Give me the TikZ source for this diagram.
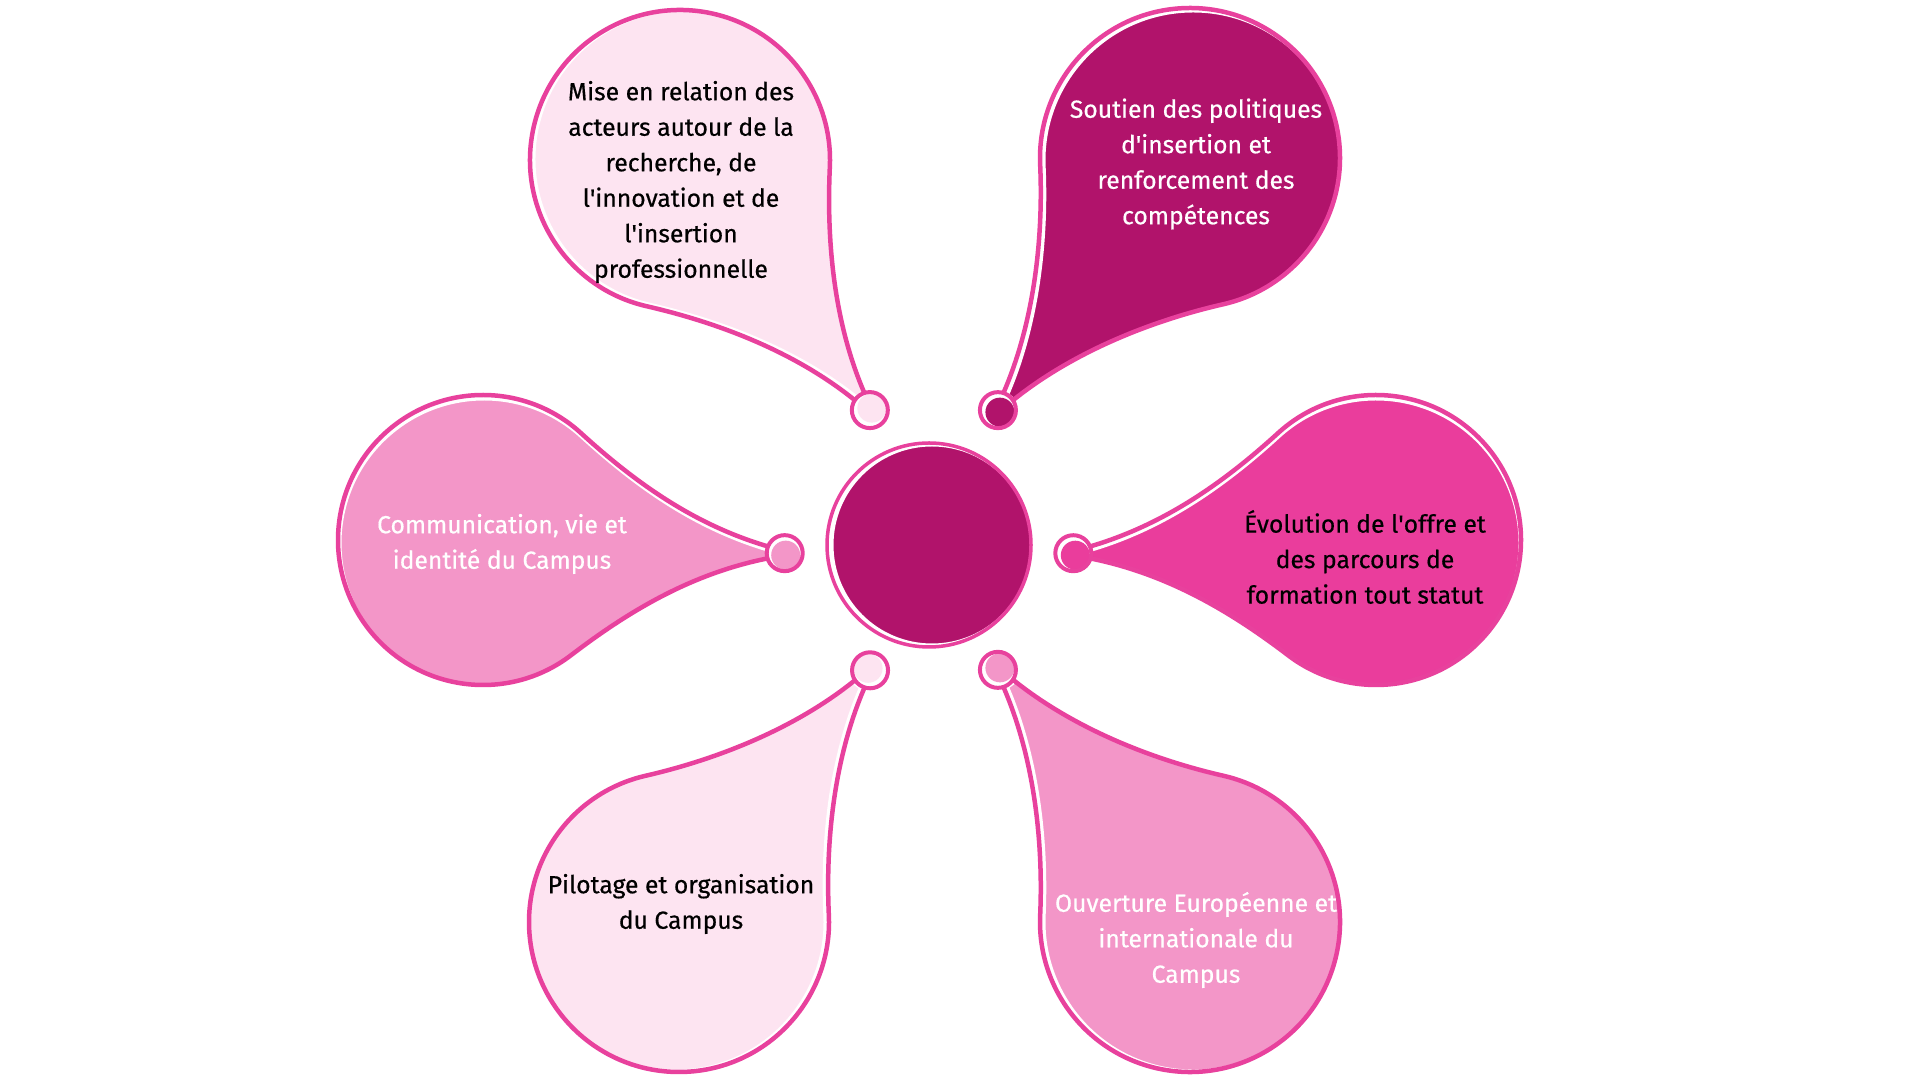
\documentclass[tikz,border=0pt]{standalone}
\usepackage{fontspec}
\setmainfont{Fira Sans}[FakeBold=0.5]
\usetikzlibrary{calc}
\definecolor{pk}{HTML}{E8419D}
\definecolor{dk}{HTML}{B1136B}
\definecolor{hot}{HTML}{EA3D9C}
\definecolor{mid}{HTML}{F396C8}
\definecolor{lt}{HTML}{FDE4F1}
\tikzset{
  outl/.style={draw=pk, line width=2.25pt},
  gapfill/.style={draw=white, line width=2.5pt},
  ringline/.style={draw=pk, line width=2pt},
  lbl/.style={align=center, font=\fontsize{12.35pt}{17.75pt}\selectfont, inner sep=0pt},
}
\newcommand\petalshape[2]{%
  ({#1-17},-6) .. controls ({#1-94},-25) and ({#2*cos(50)+54},{-#2*sin(50)+45}) .. ({#2*cos(50)},{-#2*sin(50)})
  arc[start angle=-50, end angle=-310, radius=#2]
  .. controls ({#2*cos(50)+54},{#2*sin(50)-45}) and ({#1-94},25) .. ({#1-17},6)}
% #1 x, #2 y, #3 angle, #4 D, #5 R, #6 fill colour, #7 fill offset, #8 tip name
\newcommand\petal[8]{%
  \begin{scope}[shift={#7}]
    \begin{scope}[shift={(#1,#2)}, rotate=#3]
      \path[fill=#6, gapfill] \petalshape{#4}{#5} -- cycle;
    \end{scope}
  \end{scope}
  \begin{scope}[shift={(#1,#2)}, rotate=#3]
    \draw[outl] \petalshape{#4}{#5};
    \coordinate (#8) at (#4,0);
  \end{scope}
}
% #1 tip name, #2 colour, #3 offset
\newcommand\tipc[3]{%
  \fill[white] (#1) circle[radius=17];
  \fill[#2] ($(#1)+#3$) circle[radius=14.5];
  \draw[ringline] (#1) circle[radius=18];
}
\begin{document}
\begin{tikzpicture}[x=0.5pt, y=0.5pt]
\useasboundingbox (0,0) rectangle (1920,1080);
\fill[white] (0,0) rectangle (1920,1080);

% petals
\petal{680}{920}{-52.8}{314}{150}{lt}{(3,1)}{t1}
\tipc{t1}{lt}{(2,2)}
\petal{1190}{922}{-127.3}{317}{150}{dk}{(3,-2)}{t2}
\tipc{t2}{dk}{(2,-2)}
\petal{1376}{540}{-177.5}{303}{145}{hot}{(0,-3)}{t3}
\tipc{t3}{hot}{(2,-2)}
\petal{1190}{158}{127.3}{317}{150}{mid}{(3,0)}{t4}
\tipc{t4}{mid}{(2,2)}
\petal{679}{158}{52.8}{316}{150}{lt}{(-3,0)}{t5}
\tipc{t5}{lt}{(-2,2)}
\petal{483}{540}{-2.5}{302}{145}{mid}{(1,-3)}{t6}
\tipc{t6}{mid}{(1,-2)}

% centre
\node[circle, fill=dk, draw=white, line width=1.5pt, minimum size=100pt, inner sep=0pt] (c) at (932,535) {};
\draw[pk, line width=1.75pt] (929,535) circle[radius=102];

% labels
\node[lbl, text=black] (l1) at (681,898) {Mise en relation des\\acteurs autour de la\\recherche, de\\l\textquotesingle innovation et de\\l\textquotesingle insertion\\professionnelle};
\node[lbl, text=white] (l2) at (1196,916) {Soutien des politiques\\d\textquotesingle insertion et\\renforcement des\\compétences};
\node[lbl, text=black] (l3) at (1365,523) {Évolution de l\textquotesingle offre et\\des parcours de\\formation tout statut};
\node[lbl, text=white] (l4) at (1196,140) {Ouverture Européenne et\\internationale du\\Campus};
\node[lbl, text=black] (l5) at (681,176) {Pilotage et organisation\\du Campus};
\node[lbl, text=white] (l6) at (502,536) {Communication, vie et\\identité du Campus};
\end{tikzpicture}
\end{document}
